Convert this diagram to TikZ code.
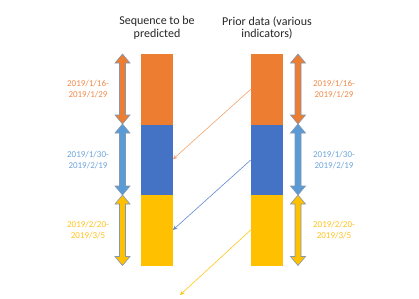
\documentclass[tikz,border=0pt]{standalone}
\usepackage{fontspec}
\setmainfont{Carlito}
\usetikzlibrary{arrows.meta}
\definecolor{cOr}{HTML}{ED7D31}
\definecolor{cBl}{HTML}{4472C4}
\definecolor{cYe}{HTML}{FFC000}
\definecolor{cLb}{HTML}{5B9BD5}
\definecolor{tOr}{HTML}{F08A48}
\definecolor{tBl}{HTML}{6CA4DB}
\definecolor{tYe}{HTML}{FFC21A}
\definecolor{cGr}{HTML}{8497B0}
\newcommand\dblarr[4]{%
  \filldraw[fill=#4,draw=cGr,line width=0.6pt,line join=miter]
  (#1,#2) -- ++(7.5,9) -- ++(-4.5,0) -- (#1+3,#3-9) -- ++(4.5,0) -- (#1,#3)
  -- ++(-7.5,-9) -- ++(4.5,0) -- (#1-3,#2+9) -- ++(-4.5,0) -- cycle;}
\begin{document}
\begin{tikzpicture}[x=1bp,y=-1bp,
  title/.style={font=\fontsize{12bp}{12.5bp}\selectfont,text=black!85,align=center,inner sep=0},
  lab/.style={font=\fontsize{9bp}{11bp}\selectfont,align=center,inner sep=0},
  seg/.style={draw=none,minimum width=32bp,inner sep=0,anchor=north west},
  conn/.style={line width=0.6pt,-{Stealth[length=4.5bp,width=4bp]}}]
\useasboundingbox (0,0) rectangle (419,299);
% titles
\node[title] (t1) at (157,28) {Sequence to be\\predicted};
\node[title] (t2) at (267,28) {Prior data (various\\indicators)};
% left bar
\node[seg,fill=cOr,minimum height=71bp] (lo) at (140.5,54) {};
\node[seg,fill=cBl,minimum height=70bp] (lb) at (140.5,125) {};
\node[seg,fill=cYe,minimum height=70.5bp] (ly) at (140.5,195) {};
% right bar
\node[seg,fill=cOr,minimum height=71bp] (ro) at (250.7,54) {};
\node[seg,fill=cBl,minimum height=70bp] (rb) at (250.7,125) {};
\node[seg,fill=cYe,minimum height=70.5bp] (ry) at (250.7,195) {};
% double arrows
\dblarr{122.5}{54}{124}{cOr}
\dblarr{122.5}{124}{195}{cLb}
\dblarr{122.5}{195}{265.5}{cYe}
\dblarr{298}{54}{124}{cOr}
\dblarr{298}{124}{195}{cLb}
\dblarr{298}{195}{265.5}{cYe}
% labels
\node[lab,text=tOr] (l1) at (88,89) {2019/1/16-\\2019/1/29};
\node[lab,text=tBl] (l2) at (88,160.5) {2019/1/30-\\2019/2/19};
\node[lab,text=tYe] (l3) at (88,230.5) {2019/2/20-\\2019/3/5};
\node[lab,text=tOr] (r1) at (334,89) {2019/1/16-\\2019/1/29};
\node[lab,text=tBl] (r2) at (334,160.5) {2019/1/30-\\2019/2/19};
\node[lab,text=tYe] (r3) at (334,230.5) {2019/2/20-\\2019/3/5};
% connectors
\coordinate (yend) at (180,295);
\draw[conn,draw=tOr!80] (ro.west |- 0,89.3) -- (lb.east |- 0,159.3);
\draw[conn,draw=cBl!85] (rb.west |- 0,160) -- (ly.east |- 0,230);
\draw[conn,draw=cYe!90] (ry.west |- 0,230) -- (yend);
\end{tikzpicture}
\end{document}
